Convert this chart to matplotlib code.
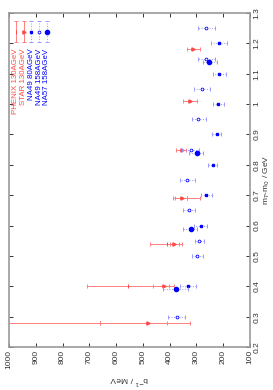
import matplotlib
matplotlib.use("Agg")
import matplotlib.pyplot as plt
from matplotlib.ticker import FuncFormatter, MultipleLocator

# inverse slope b^-1 (MeV) against m_T - m_0 (GeV); lo/hi are the ends of the error bars
phenix_mt = [0.28, 0.40, 0.54, 0.69]
phenix_b = [660, 556, 410, 335]
phenix_lo = [410, 403, 353, 285]
phenix_hi = [1100, 709, 472, 389]

star_mt = [0.28, 0.40, 0.54, 0.69, 0.85, 1.01, 1.18]
star_b = [481, 421, 382, 355, 355, 324, 313]
star_lo = [324, 384, 365, 336, 340, 299, 286]
star_hi = [660, 462, 400, 380, 378, 349, 336]

na49_80_mt = [0.40, 0.60, 0.70, 0.80, 0.90, 1.00, 1.10, 1.20]
na49_80_b = [330, 284, 263, 239, 224, 220, 215, 216]
na49_80_lo = [302, 262, 243, 222, 209, 198, 190, 187]
na49_80_hi = [361, 309, 284, 258, 243, 240, 237, 245]

na49_158_mt = [0.30, 0.50, 0.55, 0.65, 0.75, 0.85, 0.95, 1.05, 1.15, 1.25]
na49_158_b = [374, 299, 289, 327, 334, 320, 293, 278, 264, 264]
na49_158_lo = [343, 277, 272, 304, 304, 289, 264, 249, 231, 231]
na49_158_hi = [405, 318, 305, 349, 361, 353, 318, 309, 295, 295]

na57_mt = [0.39, 0.59, 0.84, 1.14]
na57_b = [376, 322, 299, 252]
na57_lo = [330, 299, 275, 224]
na57_hi = [424, 352, 327, 277]

RED = "#ff4848"
RED_BAR = "#ff8080"
BLUE = "#0000ff"
BLUE_BAR = "#9a9aff"

plt.rcParams["font.family"] = ["Liberation Sans", "DejaVu Sans"]
plt.rcParams["font.size"] = 6

series = [
    ("PHENIX 130AGeV", phenix_mt, phenix_b, phenix_lo, phenix_hi,
     dict(marker="|", ms=2.5, mew=0.7, mfc=RED, mec=RED), RED, RED_BAR, "-"),
    ("STAR 130AGeV", star_mt, star_b, star_lo, star_hi,
     dict(marker=">", ms=2.3, mfc=RED, mec=RED), RED, RED_BAR, "-"),
    ("NA49 80AGeV", na49_80_mt, na49_80_b, na49_80_lo, na49_80_hi,
     dict(marker="s", ms=1.7, mfc=BLUE, mec=BLUE), BLUE, BLUE_BAR, ":"),
    ("NA49 158AGeV", na49_158_mt, na49_158_b, na49_158_lo, na49_158_hi,
     dict(marker="o", ms=2.0, mfc="white", mec=BLUE, mew=0.6), BLUE, BLUE_BAR, ":"),
    ("NA57 158AGeV", na57_mt, na57_b, na57_lo, na57_hi,
     dict(marker="o", ms=3.0, mfc=BLUE, mec=BLUE), BLUE, BLUE_BAR, ":"),
]

fig = plt.figure(figsize=(2.73, 3.90), dpi=100)
ax = fig.add_axes([9 / 273, 1 - 347 / 390, 241 / 273, 334 / 390])

for label, mt, b, lo, hi, mstyle, col, barcol, ls in series:
    xerr = [[v - l for v, l in zip(b, lo)], [h - v for v, h in zip(b, hi)]]
    _, caps, bars = ax.errorbar(b, mt, xerr=xerr, fmt="none", ecolor=barcol,
                                elinewidth=0.7, capsize=1.4, capthick=0.7)
    bars[0].set_linestyle(ls)
    ax.plot(b, mt, ls="none", **mstyle)

# rotated key in the upper left corner
for i, (label, mt, b, lo, hi, mstyle, col, barcol, ls) in enumerate(series):
    kx = 0.029 + i * 0.032
    ax.plot([kx, kx], [0.912, 0.976], transform=ax.transAxes, color=barcol,
            lw=0.7, ls=ls)
    ax.plot([kx, kx], [0.912, 0.976], transform=ax.transAxes, ls="none",
            marker="_", ms=2.8, mew=0.7, color=barcol)
    ax.plot([kx], [0.944], transform=ax.transAxes, ls="none", **mstyle)
    ax.text(kx, 0.893, label, transform=ax.transAxes, rotation=90,
            ha="center", va="top", color=col, fontsize=5.7)

ax.set_xlim(1000, 100)
ax.set_ylim(0.2, 1.3)
ax.xaxis.set_major_locator(MultipleLocator(100))
ax.yaxis.set_major_locator(MultipleLocator(0.1))
ax.xaxis.set_major_formatter(FuncFormatter(lambda v, p: f"{v:g}"))
ax.yaxis.set_major_formatter(FuncFormatter(lambda v, p: f"{v:g}"))

ax.tick_params(which="both", direction="in", length=3, width=0.7,
               color="#333333", labelcolor="#333333", top=True, bottom=True,
               left=True, right=True, labelleft=False, labelright=True)
ax.tick_params(axis="x", pad=2)
ax.tick_params(axis="y", pad=2.5)
for t in ax.get_xticklabels():
    t.set_rotation(90)
    t.set_ha("center")
    t.set_va("top")
for t in ax.get_yticklabels():
    t.set_rotation(90)
    t.set_ha("left")
    t.set_va("center")

for s in ax.spines.values():
    s.set_color("#999999")
    s.set_linewidth(1.2)

ax.yaxis.set_label_position("right")
ax.set_ylabel("m$_T$-m$_0$ / GeV", rotation=90, color="#333333", labelpad=1)
ax.set_xlabel("b$^{-1}$ / MeV", rotation=180, color="#333333", labelpad=4)

fig.savefig("out.png", dpi=100)
